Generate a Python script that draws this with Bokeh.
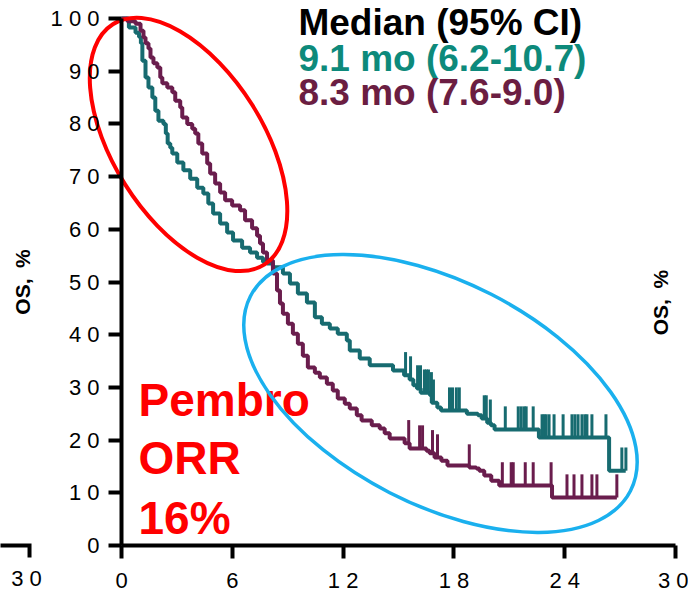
import numpy as np
from bokeh.plotting import figure
from bokeh.models import Range1d, LinearAxis, FixedTicker
from bokeh.core.properties import value
from bokeh.embed import file_html
from bokeh.resources import INLINE

# ---------------- data ----------------
x_ticks = [0, 6, 12, 18, 24, 30]
x_tick_labels = ["0", "6", "12", "18", "24", "30"]
y_ticks = [0, 10, 20, 30, 40, 50, 60, 70, 80, 90, 100]
y_tick_labels = ["0", "10", "20", "30", "40", "50", "60", "70", "80", "90", "100"]
y_label = "OS,\u2002%"

# Teal arm: step times (months) and survival (%); last entry = end of follow-up
teal_t = [0, 0.4, 0.76, 0.95, 1.05, 1.13, 1.3, 1.46, 1.67, 1.83, 2.0, 2.27, 2.4, 2.5,
          2.64, 2.75, 3.02, 3.35, 3.72, 4.10, 4.43, 4.70, 4.96, 5.34, 5.72, 6.04, 6.53,
          6.96, 7.34, 7.66, 7.88, 8.2, 8.74, 9.12, 9.55, 10.04, 10.47, 10.85, 11.28,
          11.71, 12.20, 12.36, 12.90, 13.44, 14.7, 15.3, 15.6, 15.8, 16.0, 16.2, 16.7,
          16.8, 17.1, 17.3, 18.7, 19.3, 19.5, 19.8, 20.0, 20.2, 22.6, 26.4, 27.3]
teal_s = [100, 98.3, 97.3, 96.5, 95.3, 92.0, 88.8, 86.9, 85.0, 82.5, 80.6, 80.0, 78.2, 76.3,
          75.5, 74.4, 72.7, 71.2, 69.6, 67.9, 66.8, 64.9, 63.0, 61.1, 59.4, 57.9, 56.5,
          55.6, 54.6, 53.8, 53.5, 52.8, 51.6, 49.7, 47.8, 46.1, 43.3, 42.1, 41.2,
          40.2, 38.9, 37.0, 35.5, 34.2, 33.2, 32.3, 31.5, 30.4, 29.8, 29.0, 28.5,
          27.1, 26.2, 25.6, 25.0, 24.7, 24.1, 23.3, 22.8, 22.0, 20.5, 14.2, 14.2]
teal_cens = [15.38, 15.65, 16.03, 16.19, 16.40, 16.51, 16.62, 16.78, 16.89, 17.76, 17.92,
             18.13, 18.29, 19.64, 19.75, 19.97, 20.78, 21.48, 21.64, 21.80, 21.91, 22.29,
             22.77, 22.88, 22.99, 23.15, 23.42, 23.91, 24.39, 24.55, 24.72, 24.93, 25.09,
             25.20, 25.47, 26.23, 27.09, 27.31]

# Purple arm
purple_t = [0, 0.32, 0.76, 1.03, 1.19, 1.30, 1.46, 1.57, 1.73, 1.94, 2.10, 2.21, 2.48,
            2.75, 2.91, 3.18, 3.29, 3.56, 3.83, 3.99, 4.16, 4.37, 4.64, 4.80, 5.07, 5.34,
            5.61, 5.99, 6.42, 6.69, 7.07, 7.34, 7.50, 7.66, 7.88, 8.20, 8.42, 8.58, 8.74,
            9.01, 9.28, 9.55, 9.82, 10.09, 10.47, 10.74, 11.12, 11.44, 11.71, 12.09,
            12.36, 12.74, 13.0, 13.55, 13.98, 14.25, 14.52, 15.33, 15.6, 16.51, 16.68,
            16.95, 17.32, 17.65, 18.83, 19.21, 19.37, 19.64, 20.02, 20.45, 23.31, 26.82]
purple_s = [100, 99.5, 99.0, 97.7, 96.4, 95.3, 94.3, 92.6, 91.5, 90.7, 88.8, 87.7, 86.9,
            86.0, 84.4, 83.1, 81.2, 80.0, 79.1, 78.2, 76.3, 74.4, 72.5, 70.6, 68.7, 67.0,
            65.5, 64.5, 63.6, 61.7, 60.2, 58.8, 57.3, 55.6, 54.1, 51.6, 48.4, 45.9, 44.0,
            42.1, 40.2, 38.3, 36.0, 33.8, 32.8, 31.9, 30.7, 29.4, 27.9, 26.9,
            26.0, 24.7, 23.7, 22.8, 22.2, 21.3, 20.3, 19.4, 18.4, 18.0, 17.5,
            16.7, 16.1, 15.2, 14.8, 14.6, 14.2, 13.3, 12.3, 11.4, 9.1, 9.1]
purple_cens = [15.55, 16.14, 16.30, 16.84, 17.11, 18.83, 20.62, 21.10, 21.21, 21.86, 22.29,
               23.26, 24.12, 24.50, 24.93, 25.47, 25.74, 26.82]

legend_title = "Median (95% CI)"
legend_lines = ["9.1 mo (6.2-10.7)", "8.3 mo (7.6-9.0)"]
note_lines = ["Pembro", "ORR", "16%"]
prev_panel_label = "30"

# ---------------- style ----------------
TEAL = "#176b70"
PURPLE = "#6a1d4d"
TEAL_TXT = "#0d8a7b"
PURPLE_TXT = "#6b1e42"
RED = "#ff0000"
BLUE = "#1ab0ee"
FONT = value("Liberation Sans")

W, H = 688, 594
p = figure(width=W, height=H, output_backend="svg", toolbar_location=None,
           x_axis_type=None, y_axis_type=None,
           x_range=Range1d(-6.551, 30.699), y_range=Range1d(-9.30, 103.42),
           min_border=0, background_fill_color="white", border_fill_color="white")
p.outline_line_color = None
p.grid.visible = False


def spaced(s):
    return " ".join(list(s))


yax = LinearAxis(fixed_location=0, bounds=(0, 100), ticker=FixedTicker(ticks=y_ticks))
yax.major_label_overrides = {t: spaced(l) for t, l in zip(y_ticks, y_tick_labels)}
xax = LinearAxis(fixed_location=0, bounds=(0, 30), ticker=FixedTicker(ticks=x_ticks))
xax.major_label_overrides = {t: spaced(l) for t, l in zip(x_ticks, x_tick_labels)}
for ax in (xax, yax):
    ax.axis_line_width = 4
    ax.axis_line_color = "black"
    ax.major_tick_line_width = 4
    ax.major_tick_line_color = "black"
    ax.major_tick_out = 13
    ax.major_tick_in = 0
    ax.minor_tick_line_color = None
    ax.major_label_text_font = "Liberation Sans"
    ax.major_label_text_font_size = "22px"
    ax.major_label_text_color = "black"
yax.major_label_standoff = 9
xax.major_label_standoff = 10
yax.axis_label = y_label
yax.axis_label_text_font = "Liberation Sans"
yax.axis_label_text_font_style = "bold"
yax.axis_label_text_font_size = "21px"
yax.axis_label_text_color = "black"
yax.axis_label_standoff = 14
p.add_layout(yax, "left")
p.add_layout(xax, "below")

# curves
p.step(teal_t, teal_s, mode="after", line_width=4, line_color=TEAL)
p.step(purple_t, purple_s, mode="after", line_width=4, line_color=PURPLE)


def at(ts, ss, t):
    i = np.searchsorted(np.array(ts), np.array(t), side="right") - 1
    return np.array(ss)[i]


TICK = 4.4
for cens, ts, ss, col in ((teal_cens, teal_t, teal_s, TEAL),
                          (purple_cens, purple_t, purple_s, PURPLE)):
    ys = at(ts, ss, cens)
    p.segment(x0=cens, y0=ys, x1=cens, y1=ys + TICK, line_width=3, line_color=col)

# legend texts
p.text(x=[9.58], y=[99.3], text=[legend_title], text_font=FONT, text_font_style="bold",
       text_font_size="37px", text_color="black", text_baseline="alphabetic")
p.text(x=[9.58, 9.58], y=[92.4, 86.0], text=legend_lines, text_font=FONT,
       text_font_style="bold", text_font_size="37px",
       text_color=[TEAL_TXT, PURPLE_TXT], text_baseline="alphabetic")

# Pembro note
p.text(x=[0.92] * 3, y=[27.6, 16.6, 5.3], text=note_lines, text_font=FONT,
       text_font_style="bold", text_font_size="46px", text_color=RED,
       text_baseline="alphabetic")

# right-side axis title (from neighbouring panel)
p.text(x=[29.18], y=[46.1], text=[y_label], angle=np.pi / 2, text_font=FONT,
       text_font_style="bold", text_font_size="21px", text_color="black",
       text_align="center", text_baseline="middle")

# remnant of neighbouring panel at bottom-left
p.line(x=[-6.7, -4.98, -4.98], y=[0, 0, -2.3], line_width=4, line_color="black",
       line_join="miter")
p.text(x=[-5.14], y=[-3.9], text=[spaced(prev_panel_label)], text_font=FONT,
       text_font_size="22px", text_color="black", text_align="center",
       text_baseline="top")

# highlight ellipses
p.ellipse(x=[3.63], y=[76.1], width=[284], height=[150], angle=[-np.deg2rad(57.8)],
          width_units="screen", height_units="screen", fill_color=None,
          line_color=RED, line_width=4)
p.ellipse(x=[17.27], y=[28.84], width=[427], height=[223], angle=[-np.deg2rad(27.1)],
          width_units="screen", height_units="screen", fill_color=None,
          line_color=BLUE, line_width=3.5)

open("out.html", "w").write(file_html(p, INLINE))
